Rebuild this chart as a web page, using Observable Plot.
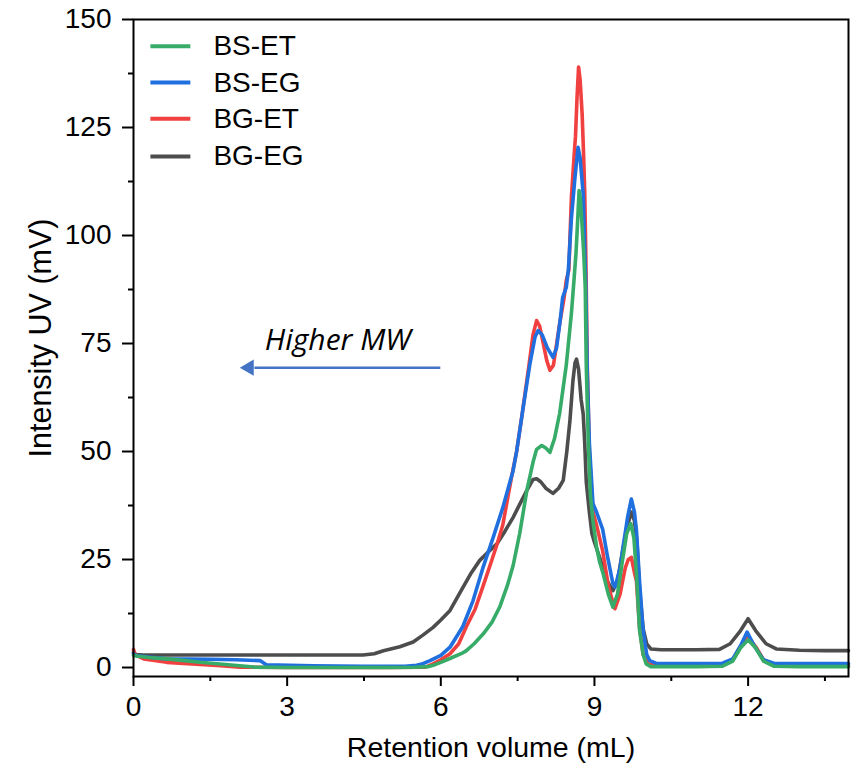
<!DOCTYPE html>
<html>
<head>
<meta charset="utf-8">
<script src="https://cdn.jsdelivr.net/npm/d3@7"></script>
<script src="https://cdn.jsdelivr.net/npm/@observablehq/plot@0.6"></script>
<style>
  html, body { margin: 0; padding: 0; background: #fff; }
  #chart { width: 861px; height: 772px; }
</style>
</head>
<body>
<div id="chart"></div>
<script>
// ---- Series (retention volume in mL, UV intensity in mV) ----
const seriesNames = ["BS-ET", "BS-EG", "BG-ET", "BG-EG"];
const seriesColors = ["#37ab68", "#1f6fde", "#f0403f", "#4d4d4d"];

const bsEtX = [0, 0.1, 0.3, 0.65, 1.0, 1.3, 1.8, 2.35, 3, 4, 5, 5.5, 5.75, 5.85, 6.0, 6.2, 6.43, 6.5, 6.65, 6.83, 7.0, 7.15, 7.3, 7.41, 7.54, 7.68, 7.8, 7.87, 7.97, 8.05, 8.13, 8.22, 8.32, 8.45, 8.55, 8.6, 8.64, 8.67, 8.7, 8.73, 8.76, 8.79, 8.82, 8.84, 8.88, 8.92, 8.97, 9.04, 9.1, 9.17, 9.27, 9.36, 9.45, 9.55, 9.63, 9.71, 9.77, 9.82, 9.88, 9.95, 10.01, 10.1, 10.5, 11, 11.5, 11.7, 11.85, 12.0, 12.15, 12.3, 12.5, 13, 13.5, 13.96];
const bsEtY = [2.8, 2.6, 2.3, 2.0, 1.6, 1.2, 0.7, 0.1, 0, 0, 0, 0.05, 0.2, 0.5, 1.2, 2.2, 3.4, 3.9, 5.5, 7.8, 10.5, 14, 19, 23.5, 31, 41, 47.5, 50.5, 51.4, 50.8, 49.8, 53, 58.8, 70, 82, 89.6, 96, 103, 110.4, 108, 102, 96, 88, 70, 52, 40, 34, 28, 24.5, 21.7, 17, 14, 17, 25, 31, 33.3, 30, 21.7, 8.6, 3, 0.85, 0.2, 0.2, 0.2, 0.3, 1.5, 4.5, 6.4, 4.5, 1.5, 0.3, 0.2, 0.2, 0.2];

const bsEgX = [0, 0.05, 0.3, 0.65, 1.5, 2.0, 2.47, 2.6, 3.5, 4.5, 5.3, 5.53, 5.65, 5.79, 6.0, 6.18, 6.43, 6.63, 6.82, 7.02, 7.21, 7.41, 7.48, 7.61, 7.74, 7.84, 7.9, 7.98, 8.08, 8.19, 8.26, 8.33, 8.38, 8.45, 8.49, 8.55, 8.62, 8.68, 8.72, 8.78, 8.83, 8.86, 8.9, 8.97, 9.04, 9.16, 9.25, 9.36, 9.4, 9.5, 9.56, 9.65, 9.72, 9.78, 9.82, 9.88, 9.95, 10.02, 10.08, 10.2, 10.6, 11, 11.5, 11.7, 11.85, 11.98, 12.12, 12.3, 12.5, 12.9, 13.5, 13.96];
const bsEgY = [3.2, 2.8, 2.4, 2.0, 1.9, 1.8, 1.6, 0.6, 0.4, 0.3, 0.3, 0.5, 0.9, 1.6, 2.8, 4.7, 9.5, 15.5, 23, 30, 37, 45.5, 50, 60.3, 70.3, 76.5, 78, 77, 74, 71.8, 74, 80.3, 85.7, 88, 92, 104, 113.5, 120.4, 118, 109.6, 88.9, 68, 52, 38, 36, 32, 26, 19.4, 18.6, 23, 28, 35, 39, 36, 31.7, 20, 8.6, 3, 1.6, 1.0, 0.9, 0.9, 1.0, 2, 5, 8.2, 5, 1.8, 1.0, 0.9, 0.9, 0.9];

const bgEtX = [0, 0.03, 0.2, 0.65, 1.3, 1.7, 2.08, 3, 4, 5, 5.7, 5.85, 6.0, 6.18, 6.35, 6.5, 6.67, 6.83, 7.0, 7.1, 7.21, 7.38, 7.48, 7.58, 7.71, 7.8, 7.87, 7.93, 8.0, 8.07, 8.13, 8.2, 8.32, 8.4, 8.45, 8.5, 8.55, 8.6, 8.63, 8.66, 8.69, 8.72, 8.76, 8.79, 8.81, 8.83, 8.86, 8.9, 8.97, 9.04, 9.16, 9.27, 9.36, 9.4, 9.5, 9.6, 9.66, 9.72, 9.78, 9.82, 9.88, 9.95, 10.05, 10.2, 10.6, 11, 11.5, 11.7, 11.85, 12.0, 12.15, 12.3, 12.5, 13, 13.5, 13.96];
const bgEtY = [4.2, 3.0, 2.0, 1.2, 0.7, 0.4, 0.1, 0, 0, 0, 0.1, 0.85, 1.8, 3.2, 5.5, 9.5, 13.5, 19, 25, 28.6, 33, 44, 50, 58, 69, 77, 80.3, 79, 75, 71, 68.8, 70, 79.6, 85, 89.6, 92, 108.9, 118, 123, 132, 139, 136, 128, 118, 110, 96.5, 70, 50, 36, 33, 27, 19, 15, 13.6, 17, 23, 25, 25.5, 22, 20, 9.3, 3, 0.8, 0.5, 0.5, 0.5, 0.6, 1.8, 4.8, 7.0, 4.8, 1.8, 0.6, 0.5, 0.5, 0.5];

const bgEgX = [0, 0.05, 0.2, 1, 2, 3, 4, 4.48, 4.7, 4.88, 5.2, 5.46, 5.65, 5.85, 6.0, 6.18, 6.43, 6.6, 6.76, 6.95, 7.1, 7.25, 7.41, 7.55, 7.68, 7.8, 7.87, 7.95, 8.05, 8.19, 8.3, 8.39, 8.46, 8.52, 8.58, 8.62, 8.65, 8.69, 8.74, 8.78, 8.81, 8.84, 8.9, 8.95, 9.0, 9.1, 9.25, 9.36, 9.45, 9.55, 9.65, 9.72, 9.78, 9.83, 9.88, 9.95, 10.02, 10.1, 10.3, 11, 11.44, 11.65, 11.85, 12.0, 12.15, 12.35, 12.55, 13, 13.5, 13.96];
const bgEgY = [3.5, 3.0, 2.9, 2.9, 2.9, 2.9, 2.9, 2.9, 3.2, 3.9, 4.8, 5.9, 7.5, 9.3, 11, 13.2, 18.5, 22, 24.8, 27, 28.7, 31.5, 34.7, 38, 41, 43.5, 43.7, 43, 41.5, 40.3, 41.5, 43.3, 50, 57, 66.4, 70.5, 71.4, 69, 62, 58.7, 52, 43, 36, 31, 29, 25.5, 20, 17.8, 20, 27, 33, 36, 34, 29, 18, 9, 5.5, 4.3, 4.1, 4.1, 4.2, 5.5, 8.5, 11.3, 8.5, 5.5, 4.3, 4.0, 3.9, 3.9];

// ---- Axes ----
const xDomain = [0, 13.96];
const yDomain = [-2.08, 150];
const xMajorTicks = [0, 3, 6, 9, 12];
const xMinorTicks = [1.5, 4.5, 7.5, 10.5, 13.5];
const yMajorTicks = [0, 25, 50, 75, 100, 125, 150];
const yMinorTicks = [12.5, 37.5, 62.5, 87.5, 112.5, 137.5];
const xLabel = "Retention volume (mL)";
const yLabel = "Intensity UV (mV)";

// ---- Annotation ----
const annotationText = "Higher MW";
const annotationPos = {x: 3.99, y: 75.7};
const arrowFrom = {x: 5.99, y: 69.4};
const arrowTo = {x: 2.36, y: 69.4};
const arrowHead = {x: 2.257, y: 69.4};

// ---- Legend placement (data units) ----
const legendX1 = 0.33, legendX2 = 1.11, legendTextX = 1.56;
const legendY = [143.8, 135.4, 127.0, 118.3];

const seriesX = [bsEtX, bsEgX, bgEtX, bgEgX];
const seriesY = [bsEtY, bsEgY, bgEtY, bgEgY];

function build(i) {
  return seriesX[i].map((x, k) => ({x, y: seriesY[i][k], name: seriesNames[i]}));
}

const drawOrder = [3, 2, 1, 0]; // gray, red, blue, green on top

const legendData = seriesNames.map((name, i) => ({name, color: seriesColors[i], y: legendY[i]}));

const plot = Plot.plot({
  width: 861,
  height: 772,
  marginLeft: 133,
  marginRight: 13,
  marginTop: 19,
  marginBottom: 96,
  style: {fontFamily: "'Liberation Sans', Arial, sans-serif", fontSize: "28px", background: "#fff", color: "#000"},
  x: {domain: xDomain},
  y: {domain: yDomain},
  marks: [
    ...drawOrder.map(i => Plot.line(build(i), {x: "x", y: "y", stroke: seriesColors[i], strokeWidth: 3.6, strokeLinejoin: "round"})),
    Plot.frame({stroke: "#000", strokeWidth: 2}),
    Plot.axisX({ticks: xMajorTicks, tickSize: 10, tickPadding: 10, label: null, strokeWidth: 2, fontSize: 28}),
    Plot.axisX({ticks: xMinorTicks, tickSize: 5, text: null, label: null, strokeWidth: 2}),
    Plot.axisY({ticks: yMajorTicks, tickSize: 11, tickPadding: 11, label: null, strokeWidth: 2, fontSize: 28}),
    Plot.axisY({ticks: yMinorTicks, tickSize: 5, text: null, label: null, strokeWidth: 2}),
    Plot.text([xLabel], {frameAnchor: "bottom", dy: 71, textAnchor: "middle", lineAnchor: "middle", fontSize: 28.5}),
    Plot.text([yLabel], {frameAnchor: "left", dx: -92, dy: -10, rotate: -90, textAnchor: "middle", lineAnchor: "middle", fontSize: 30.5}),
    // legend
    Plot.link(legendData, {x1: () => legendX1, x2: () => legendX2, y1: "y", y2: "y", stroke: "color", strokeWidth: 4}),
    Plot.text(legendData, {x: () => legendTextX, y: "y", text: "name", textAnchor: "start", lineAnchor: "middle", fontSize: 28}),
    // annotation
    Plot.link([0], {x1: arrowFrom.x, y1: arrowFrom.y, x2: arrowTo.x, y2: arrowTo.y, stroke: "#4472C4", strokeWidth: 2.5}),
    Plot.dot([0], {x: arrowHead.x, y: arrowHead.y, symbol: "triangle", r: 6, fill: "#4472C4", stroke: "none", rotate: -90}),
    Plot.text([annotationText], {x: annotationPos.x, y: annotationPos.y, lineAnchor: "middle", fontSize: 30, fontStyle: "italic", fontFamily: "'Open Sans', sans-serif"})
  ]
});

document.getElementById("chart").appendChild(plot);
</script>
</body>
</html>
